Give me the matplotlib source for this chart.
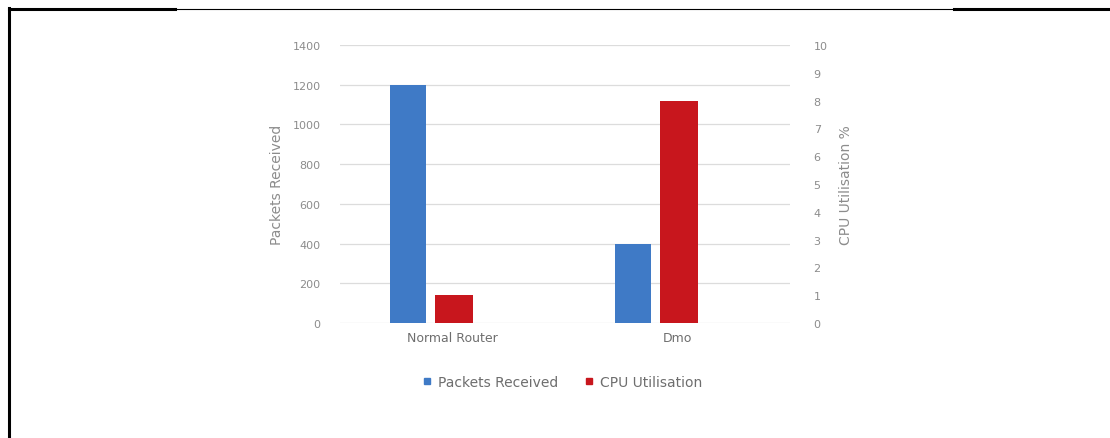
import matplotlib
matplotlib.use('Agg')
import matplotlib.pyplot as plt
from matplotlib.lines import Line2D
import numpy as np

# ── Datos ─────────────────────────────────────────────────────────────
categorias = ['Normal Router', 'Dmo']
paquetes = [1200, 400]       # eje izquierdo
cpu = [1, 8]                 # eje derecho (%)

AZUL = '#3F7AC6'
ROJO = '#C8161D'
GRIS = '#8C8C8C'

W, H = 1110, 439
fig = plt.figure(figsize=(W / 100, H / 100), dpi=100)
ax = fig.add_axes([340 / W, 1 - 324 / H, 450 / W, 278 / H])
ax2 = ax.twinx()

x = np.arange(len(categorias))
ax.bar(x - 0.2, paquetes, width=0.16, color=AZUL, zorder=3)
ax2.bar(x + 0.005, cpu, width=0.17, color=ROJO, zorder=3)

ax.set_xlim(-0.5, 1.5)
ax.set_ylim(0, 1400)
ax2.set_ylim(0, 10)
ax.set_yticks(range(0, 1401, 200))
ax2.set_yticks(range(0, 11))
ax.set_xticks(x)
ax.set_xticklabels(categorias)

ax.grid(axis='y', color='#DCDCDC', linewidth=0.9, zorder=0)
for a in (ax, ax2):
    for s in a.spines.values():
        s.set_visible(False)
    a.tick_params(length=0, labelsize=8, labelcolor=GRIS)
ax.tick_params(axis='y', pad=14)
ax2.tick_params(axis='y', pad=17)
ax.tick_params(axis='x', pad=6, labelsize=9, labelcolor='#6E6E6E')

ax.set_ylabel('Packets Received', fontsize=10, color=GRIS, labelpad=6)
ax2.set_ylabel('CPU Utilisation %', fontsize=10, color=GRIS, rotation=90, labelpad=8)

handles = [Line2D([], [], marker='s', linestyle='none', color=AZUL, markersize=5),
           Line2D([], [], marker='s', linestyle='none', color=ROJO, markersize=5)]
fig.legend(handles, ['Packets Received', 'CPU Utilisation'], loc='center',
           bbox_to_anchor=(562 / W, 1 - 383 / H), ncol=2, frameon=False,
           fontsize=10, labelcolor='#6E6E6E', handletextpad=0.4, columnspacing=1.8,
           handlelength=0.8)

# ── Marco ─────────────────────────────────────────────────────────────
yt = 1 - 10 / H
fig.add_artist(Line2D([8.5 / W, 175 / W], [yt, yt], color='black', linewidth=2.2))
fig.add_artist(Line2D([175 / W, 954 / W], [yt, yt], color='black', linewidth=0.8))
fig.add_artist(Line2D([954 / W, 1.0], [yt, yt], color='black', linewidth=2.2))
fig.add_artist(Line2D([8.5 / W, 8.5 / W], [0, yt + 1 / H], color='black', linewidth=2.2))

fig.savefig('out.png', dpi=100)
